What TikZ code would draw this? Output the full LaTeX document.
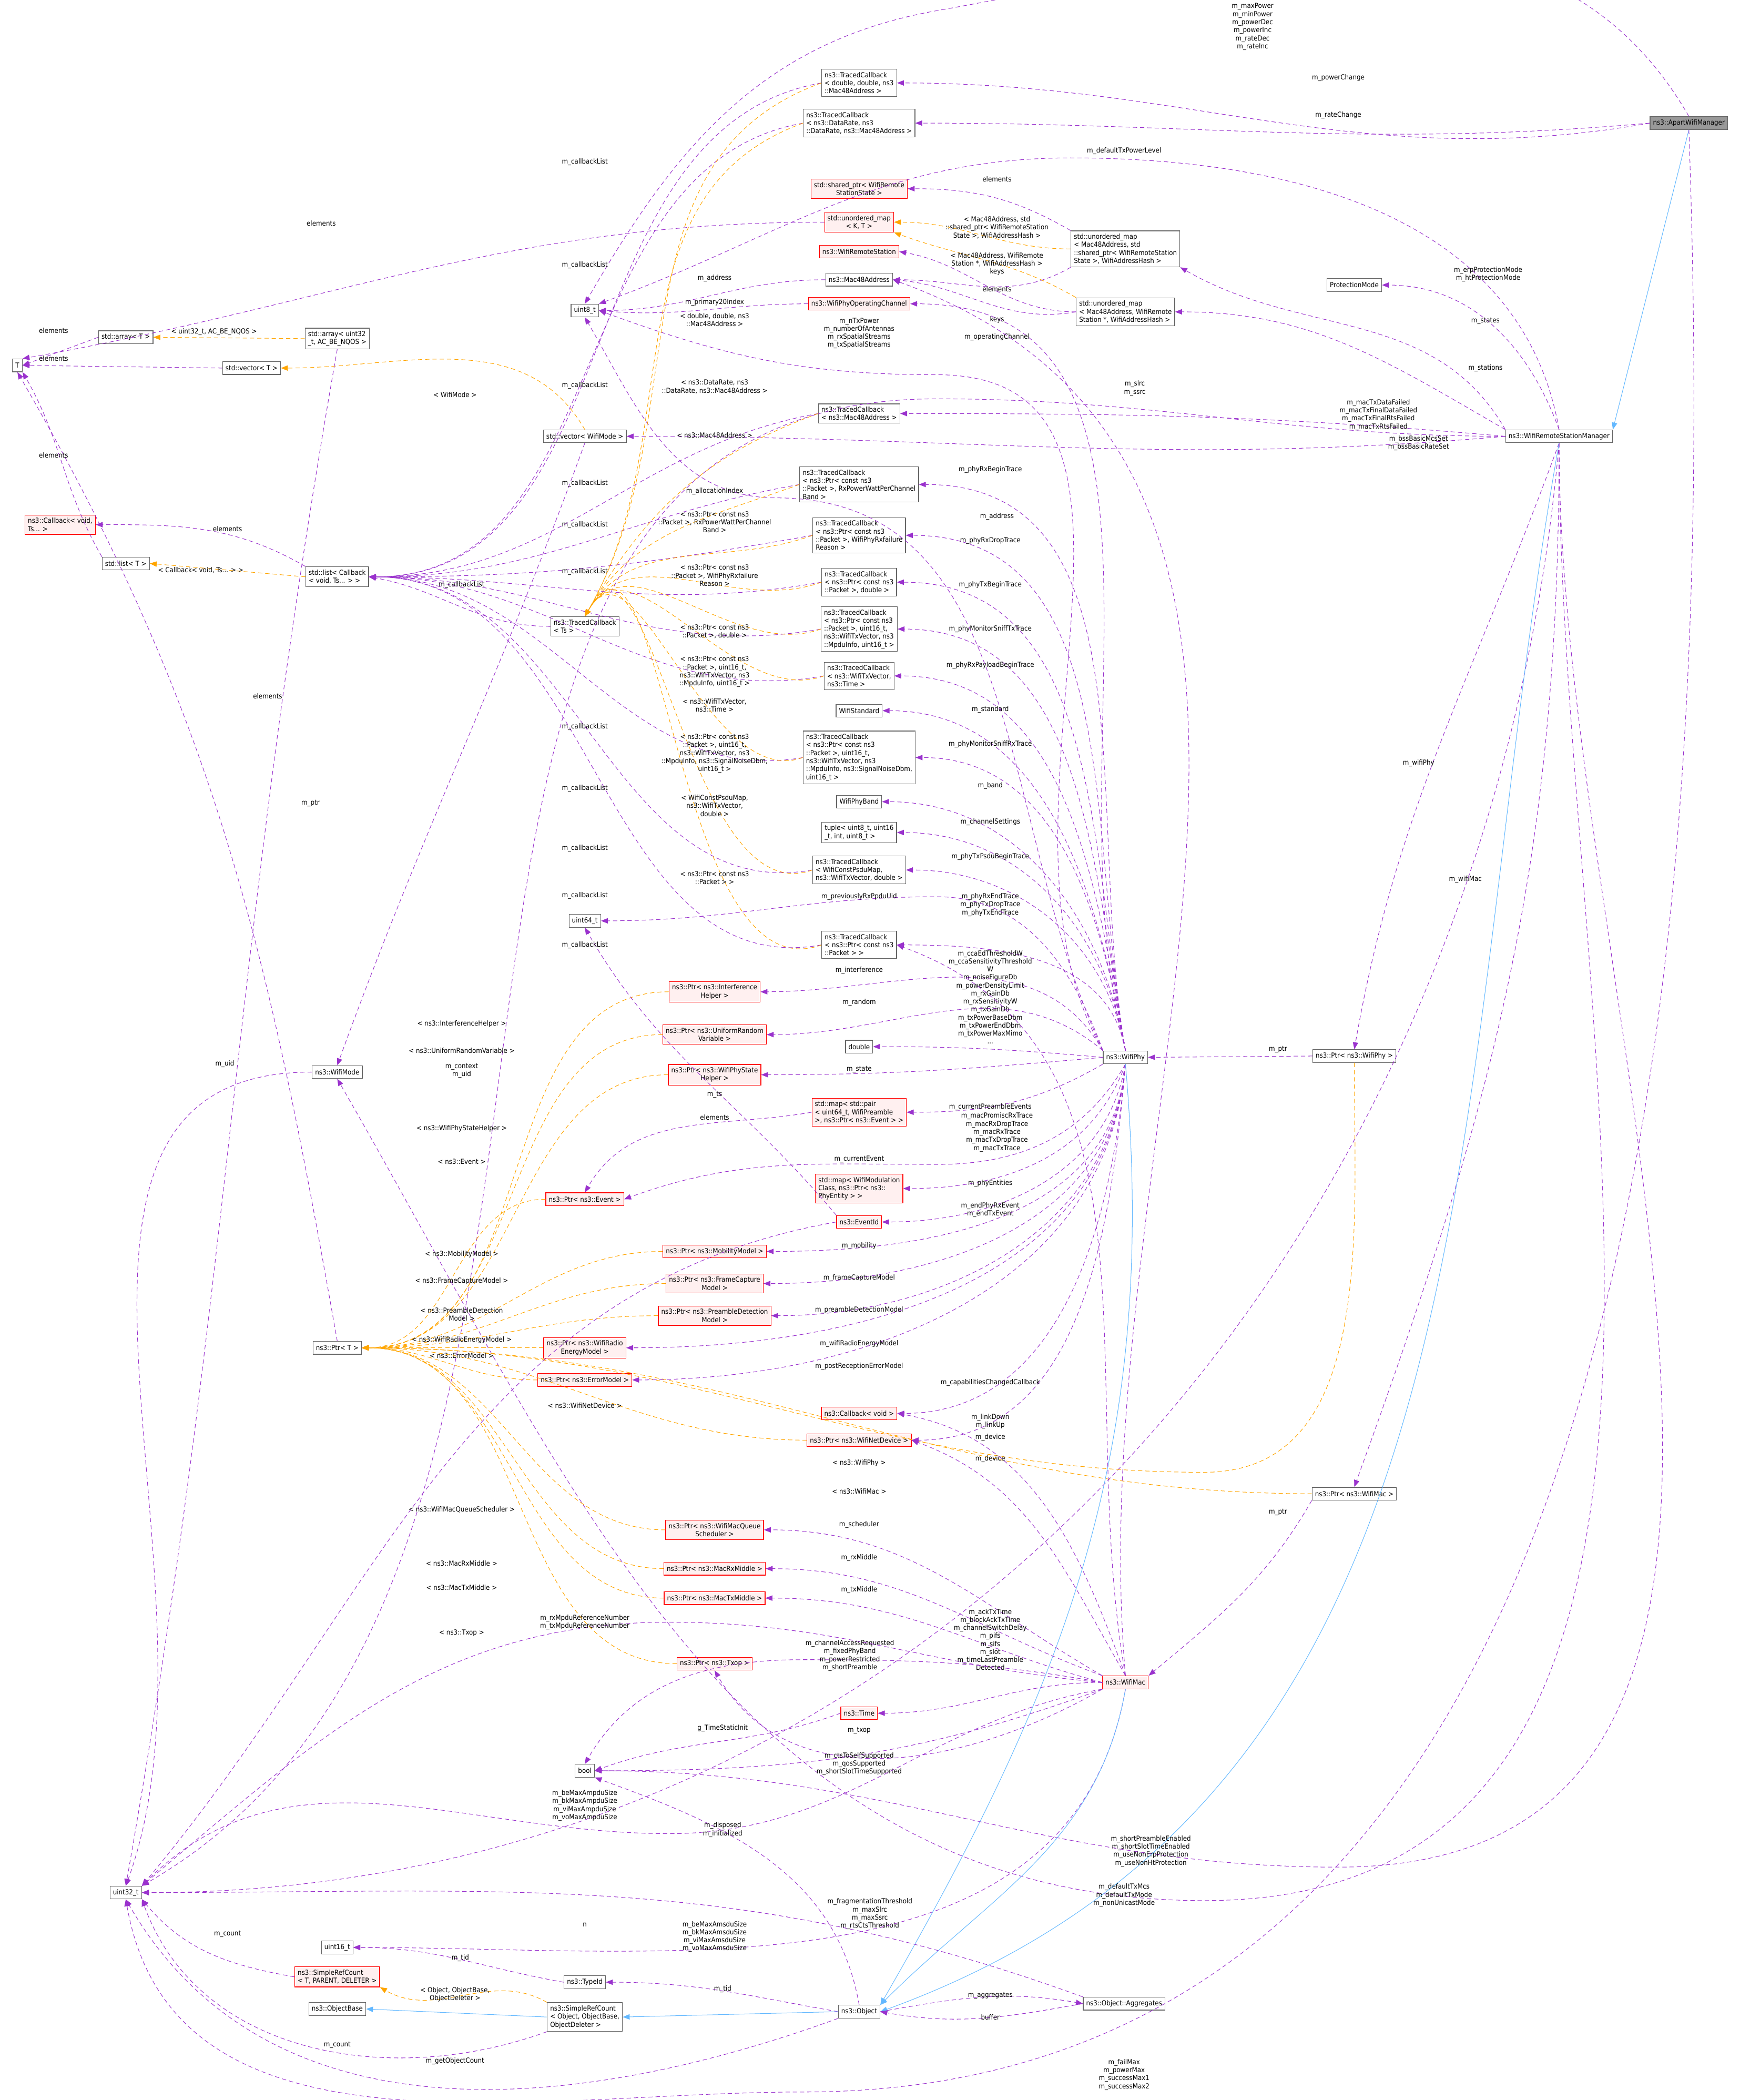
\documentclass[tikz,border=0pt]{standalone}
\usepackage{fontspec}
\setmainfont{DejaVu Sans Condensed}
\usetikzlibrary{arrows.meta}
\definecolor{pur}{HTML}{9A32CD}
\definecolor{org}{HTML}{FFA500}
\definecolor{blu}{HTML}{63B8FF}
\definecolor{redb}{HTML}{FF0000}
\definecolor{redf}{HTML}{FFF0F0}
\newcommand{\lbf}{\fontsize{1.3}{1.5}\selectfont}
\tikzset{
 bx/.style={draw=black!60, line width=0.12pt, fill=white, font=\lbf, align=left, inner sep=0.55pt, minimum height=2.4pt},
 rb/.style={bx, draw=redb, fill=redf},
 lb/.style={font=\lbf, align=center, inner sep=0pt},
 ln/.style={line width=0.1pt, dash pattern=on 0.8pt off 0.55pt},
 pe/.style={draw=pur, ln, -{Triangle[length=1.3pt,width=1pt,fill=pur]}},
 oe/.style={draw=org, ln, -{Triangle[length=1.3pt,width=1pt,fill=org]}},
 be/.style={draw=blu, line width=0.1pt, -{Triangle[length=1.3pt,width=1pt,fill=blu]}},
}
\begin{document}
\begin{tikzpicture}[x=0.25pt,y=0.25pt]
\useasboundingbox (0,0) rectangle (1300,-1569);
% nodes
\node[bx,fill=black!40] (ap) at (1262,-92) {ns3::ApartWifiManager};
\node[bx] (mgr) at (1165,-326) {ns3::WifiRemoteStationManager};
\node[bx] (prot) at (1012,-213) {ProtectionMode};
\node[bx] (pphy) at (1012,-789) {ns3::Ptr< ns3::WifiPhy >};
\node[bx] (pmac) at (1012,-1116) {ns3::Ptr< ns3::WifiMac >};
\node[bx] (phy) at (841,-790) {ns3::WifiPhy};
\node[rb] (mac) at (841,-1257) {ns3::WifiMac};
\node[bx] (obj) at (642,-1503) {ns3::Object};
\node[bx] (agg) at (840,-1497) {ns3::Object::Aggregates};
\node[bx] (tid) at (437,-1481) {ns3::TypeId};
\node[bx] (srco) at (437,-1507) {ns3::SimpleRefCount\\< Object, ObjectBase,\\ObjectDeleter >};
\node[bx] (ob) at (252,-1501) {ns3::ObjectBase};
\node[rb] (srct) at (252,-1477) {ns3::SimpleRefCount\\< T, PARENT, DELETER >};
\node[bx] (u16) at (252,-1455) {uint16\_t};
\node[bx] (u32) at (94,-1414) {uint32\_t};
\node[bx] (bool) at (437,-1323) {bool};
\node[rb] (time) at (642,-1280) {ns3::Time};
\node[rb] (ptxop) at (534,-1243) {ns3::Ptr< ns3::Txop >};
\node[rb] (ptxm) at (534,-1194) {ns3::Ptr< ns3::MacTxMiddle >};
\node[rb] (prxm) at (534,-1172) {ns3::Ptr< ns3::MacRxMiddle >};
\node[rb,align=center] (psch) at (534,-1143) {ns3::Ptr< ns3::WifiMacQueue\\Scheduler >};
\node[rb] (pnd) at (642,-1076) {ns3::Ptr< ns3::WifiNetDevice >};
\node[rb] (cbv) at (642,-1056) {ns3::Callback< void >};
\node[rb] (perr) at (437,-1031) {ns3::Ptr< ns3::ErrorModel >};
\node[rb,align=center] (prad) at (437,-1007) {ns3::Ptr< ns3::WifiRadio\\EnergyModel >};
\node[rb,align=center] (ppre) at (534,-983) {ns3::Ptr< ns3::PreambleDetection\\Model >};
\node[rb,align=center] (pfc) at (534,-959) {ns3::Ptr< ns3::FrameCapture\\Model >};
\node[rb] (pmob) at (534,-935) {ns3::Ptr< ns3::MobilityModel >};
\node[rb] (evid) at (642,-913) {ns3::EventId};
\node[rb] (pev) at (437,-896) {ns3::Ptr< ns3::Event >};
\node[rb] (mapmod) at (642,-888) {std::map< WifiModulation\\Class, ns3::Ptr< ns3::\\PhyEntity > >};
\node[rb] (mappair) at (642,-831) {std::map< std::pair\\< uint64\_t, WifiPreamble\\>, ns3::Ptr< ns3::Event > >};
\node[rb,align=center] (psh) at (534,-803) {ns3::Ptr< ns3::WifiPhyState\\Helper >};
\node[bx] (dbl) at (642,-782) {double};
\node[rb,align=center] (prnd) at (534,-773) {ns3::Ptr< ns3::UniformRandom\\Variable >};
\node[rb,align=center] (pint) at (534,-741) {ns3::Ptr< ns3::Interference\\Helper >};
\node[bx] (tcpkt) at (642,-706) {ns3::TracedCallback\\< ns3::Ptr< const ns3\\::Packet > >};
\node[bx] (u64) at (437,-688) {uint64\_t};
\node[bx] (tcpsdu) at (642,-650) {ns3::TracedCallback\\< WifiConstPsduMap,\\ns3::WifiTxVector, double >};
\node[bx] (tup) at (642,-622) {tuple< uint8\_t, uint16\\\_t, int, uint8\_t >};
\node[bx] (band) at (642,-599) {WifiPhyBand};
\node[bx] (tcsig) at (642,-566) {ns3::TracedCallback\\< ns3::Ptr< const ns3\\::Packet >, uint16\_t,\\ns3::WifiTxVector, ns3\\::MpduInfo, ns3::SignalNoiseDbm,\\uint16\_t >};
\node[bx] (stdd) at (642,-531) {WifiStandard};
\node[bx] (tctv) at (642,-505) {ns3::TracedCallback\\< ns3::WifiTxVector,\\ns3::Time >};
\node[bx] (tcmpdu) at (642,-470) {ns3::TracedCallback\\< ns3::Ptr< const ns3\\::Packet >, uint16\_t,\\ns3::WifiTxVector, ns3\\::MpduInfo, uint16\_t >};
\node[bx] (tcpd) at (642,-435) {ns3::TracedCallback\\< ns3::Ptr< const ns3\\::Packet >, double >};
\node[bx] (tcfail) at (642,-400) {ns3::TracedCallback\\< ns3::Ptr< const ns3\\::Packet >, WifiPhyRxfailure\\Reason >};
\node[bx] (tcrxp) at (642,-362) {ns3::TracedCallback\\< ns3::Ptr< const ns3\\::Packet >, RxPowerWattPerChannel\\Band >};
\node[bx] (tcmac) at (642,-309) {ns3::TracedCallback\\< ns3::Mac48Address >};
\node[bx] (vwm) at (437,-326) {std::vector< WifiMode >};
\node[bx] (wm) at (252,-801) {ns3::WifiMode};
\node[bx] (arru) at (252,-253) {std::array< uint32\\\_t, AC\_BE\_NQOS >};
\node[bx] (arrt) at (94,-252) {std::array< T >};
\node[bx] (vect) at (188,-275) {std::vector< T >};
\node[bx] (T) at (13,-273) {T};
\node[bx] (listt) at (94,-421) {std::list< T >};
\node[rb] (cbts) at (45,-392) {ns3::Callback< void,\\Ts... >};
\node[bx] (lcb) at (252,-431) {std::list< Callback\\< void, Ts... > >};
\node[bx] (tcts) at (437,-468) {ns3::TracedCallback\\< Ts >};
\node[bx] (ptrt) at (252,-1007) {ns3::Ptr< T >};
\node[bx] (u8) at (437,-232) {uint8\_t};
\node[rb] (opch) at (642,-227) {ns3::WifiPhyOperatingChannel};
\node[bx] (mac48) at (642,-209) {ns3::Mac48Address};
\node[rb] (wrs) at (642,-188) {ns3::WifiRemoteStation};
\node[rb,align=center] (umkt) at (642,-166) {std::unordered\_map\\< K, T >};
\node[rb,align=center] (shp) at (642,-141) {std::shared\_ptr< WifiRemote\\StationState >};
\node[bx] (tcdr) at (642,-92) {ns3::TracedCallback\\< ns3::DataRate, ns3\\::DataRate, ns3::Mac48Address >};
\node[bx] (tcdd) at (642,-62) {ns3::TracedCallback\\< double, double, ns3\\::Mac48Address >};
\node[bx] (um1) at (841,-186) {std::unordered\_map\\< Mac48Address, std\\::shared\_ptr< WifiRemoteStation\\State >, WifiAddressHash >};
\node[bx] (um2) at (841,-233) {std::unordered\_map\\< Mac48Address, WifiRemote\\Station *, WifiAddressHash >};

% ApartWifiManager
\draw[be] (ap.south) -- (mgr.north east);
\draw[pe] (ap.north) to[out=120,in=10] (700,-8) to[out=190,in=60] (u8.north);
\node[lb] at (936,-20) {m\_maxPower\\m\_minPower\\m\_powerDec\\m\_powerInc\\m\_rateDec\\m\_rateInc};
\draw[pe] (ap.west) to[out=190,in=0] (tcdd.east); \node[lb] at (1000,-58) {m\_powerChange};
\draw[pe] (ap.west) to[out=185,in=0] (tcdr.east); \node[lb] at (1000,-86) {m\_rateChange};
\draw[pe] (ap.south) to[out=-88,in=0] (600,-1563) to[out=180,in=-80] (u32.south);
\node[lb] at (840,-1550) {m\_failMax\\m\_powerMax\\m\_successMax1\\m\_successMax2};
% manager
\draw[pe] (mgr.north) to[out=100,in=0] (800,-118) to[out=180,in=20] (u8.north east); \node[lb] at (840,-113) {m\_defaultTxPowerLevel};
\draw[pe] (mgr.north) to[out=110,in=0] (prot.east); \node[lb] at (1112,-205) {m\_erpProtectionMode\\m\_htProtectionMode};
\draw[pe] (mgr.north west) to[out=120,in=-30] (um1.south east); \node[lb] at (1110,-240) {m\_states};
\draw[pe] (mgr.north west) to[out=150,in=0] (um2.east); \node[lb] at (1110,-275) {m\_stations};
\draw[pe] (mgr.west) to[out=180,in=0] (700,-298) to[out=180,in=30] (u32.north east); \node[lb] at (848,-290) {m\_slrc\\m\_ssrc};
\draw[pe] (mgr.west) to[out=175,in=0] (tcmac.east); \node[lb] at (1030,-310) {m\_macTxDataFailed\\m\_macTxFinalDataFailed\\m\_macTxFinalRtsFailed\\m\_macTxRtsFailed};
\draw[pe] (mgr.west) to[out=185,in=0] (vwm.east); \node[lb] at (1060,-331) {m\_bssBasicMcsSet\\m\_bssBasicRateSet};
\draw[pe] (mgr.south) to[out=-110,in=80] (pphy.north); \node[lb] at (1060,-570) {m\_wifiPhy};
\draw[pe] (mgr.south) to[out=-90,in=70] (pmac.north); \node[lb] at (1095,-657) {m\_wifiMac};
\draw[pe] (mgr.south) to[out=-90,in=0] (1000,-1395) to[out=180,in=0] (bool.east); \node[lb] at (860,-1383) {m\_shortPreambleEnabled\\m\_shortSlotTimeEnabled\\m\_useNonErpProtection\\m\_useNonHtProtection};
\draw[pe] (mgr.south) to[out=-90,in=0] (900,-1420) to[out=180,in=-60] (wm.south); \node[lb] at (840,-1416) {m\_defaultTxMcs\\m\_defaultTxMode\\m\_nonUnicastMode};
\draw[pe] (mgr.south) to[out=-95,in=0] (u32.east); \node[lb] at (650,-1430) {m\_fragmentationThreshold\\m\_maxSlrc\\m\_maxSsrc\\m\_rtsCtsThreshold};
\draw[be] (mgr.south) to[out=-100,in=20] (obj.east);
% Ptr phy/mac
\draw[pe] (pphy.west) -- (phy.east); \node[lb] at (955,-784) {m\_ptr};
\draw[pe] (pmac.south west) to[out=-120,in=40] (mac.north east); \node[lb] at (955,-1130) {m\_ptr};
\draw[oe] (pphy.south) to[out=-90,in=0] (900,-1100) to[out=180,in=0] (ptrt.east); \node[lb] at (642,-1093) {< ns3::WifiPhy >};
\draw[oe] (pmac.west) to[out=180,in=0] (ptrt.east); \node[lb] at (642,-1114) {< ns3::WifiMac >};
% WifiPhy members
\foreach \t/\o in {tcrxp/100,tcfail/100,tcpd/100,tcmpdu/100,tctv/100,stdd/100,tcsig/100,band/100,tup/100,tcpsdu/100,tcpkt/100}{
  \draw[pe] (phy.north) to[out=\o,in=0] (\t.east);}
\node[lb] at (740,-351) {m\_phyRxBeginTrace};
\node[lb] at (740,-404) {m\_phyRxDropTrace};
\node[lb] at (740,-437) {m\_phyTxBeginTrace};
\node[lb] at (740,-470) {m\_phyMonitorSniffTxTrace};
\node[lb] at (740,-497) {m\_phyRxPayloadBeginTrace};
\node[lb] at (740,-530) {m\_standard};
\node[lb] at (740,-556) {m\_phyMonitorSniffRxTrace};
\node[lb] at (740,-587) {m\_band};
\node[lb] at (740,-614) {m\_channelSettings};
\node[lb] at (740,-640) {m\_phyTxPsduBeginTrace};
\node[lb] at (740,-676) {m\_phyRxEndTrace\\m\_phyTxDropTrace\\m\_phyTxEndTrace};
\draw[pe] (phy.north) to[out=105,in=0] (opch.east); \node[lb] at (745,-252) {m\_operatingChannel};
\draw[pe] (phy.north west) to[out=110,in=0] (700,-670) to[out=180,in=0] (u64.east); \node[lb] at (642,-670) {m\_previouslyRxPpduUid};
\draw[pe] (phy.north west) to[out=120,in=0] (pint.east); \node[lb] at (642,-725) {m\_interference};
\draw[pe] (phy.north west) to[out=140,in=0] (prnd.east); \node[lb] at (642,-749) {m\_random};
\draw[pe] (phy.west) to[out=175,in=0] (dbl.east); \node[lb] at (740,-745) {m\_ccaEdThresholdW\\m\_ccaSensitivityThreshold\\W\\m\_noiseFigureDb\\m\_powerDensityLimit\\m\_rxGainDb\\m\_rxSensitivityW\\m\_txGainDb\\m\_txPowerBaseDbm\\m\_txPowerEndDbm\\m\_txPowerMaxMimo\\...};
\draw[pe] (phy.west) to[out=185,in=0] (psh.east); \node[lb] at (642,-799) {m\_state};
\draw[pe] (phy.south west) to[out=-150,in=0] (mappair.east); \node[lb] at (740,-827) {m\_currentPreambleEvents};
\draw[pe] (phy.south) to[out=-120,in=0] (700,-870) to[out=180,in=20] (pev.east); \node[lb] at (642,-866) {m\_currentEvent};
\draw[pe] (phy.south) to[out=-110,in=0] (mapmod.east); \node[lb] at (740,-884) {m\_phyEntities};
\draw[pe] (phy.south) to[out=-100,in=0] (evid.east); \node[lb] at (740,-904) {m\_endPhyRxEvent\\m\_endTxEvent};
\foreach \t in {pmob,pfc,ppre,prad,perr,cbv,pnd}{\draw[pe] (phy.south) to[out=-95,in=0] (\t.east);}
\node[lb] at (642,-931) {m\_mobility};
\node[lb] at (642,-955) {m\_frameCaptureModel};
\node[lb] at (642,-979) {m\_preambleDetectionModel};
\node[lb] at (642,-1004) {m\_wifiRadioEnergyModel};
\node[lb] at (642,-1021) {m\_postReceptionErrorModel};
\node[lb] at (740,-1033) {m\_capabilitiesChangedCallback};
\node[lb] at (740,-1074) {m\_device};
\draw[pe] (phy.north west) to[out=120,in=0] (700,-280) to[out=180,in=-20] (u8.east);
\node[lb] at (642,-249) {m\_nTxPower\\m\_numberOfAntennas\\m\_rxSpatialStreams\\m\_txSpatialStreams};
\draw[pe] (phy.north west) to[out=115,in=0] (580,-372) to[out=180,in=-60] (u8.south); \node[lb] at (534,-367) {m\_allocationIndex};
\draw[be] (phy.south) to[out=-85,in=60] (obj.north east);
% WifiMac members
\draw[pe] (mac.north) to[out=95,in=-20] (mac48.east); \node[lb] at (745,-386) {m\_address};
\draw[pe] (mac.north) to[out=100,in=-20] (tcpkt.east); \node[lb] at (745,-846) {m\_macPromiscRxTrace\\m\_macRxDropTrace\\m\_macRxTrace\\m\_macTxDropTrace\\m\_macTxTrace};
\draw[pe] (mac.north) to[out=110,in=-10] (cbv.east); \node[lb] at (740,-1062) {m\_linkDown\\m\_linkUp};
\draw[pe] (mac.north) to[out=120,in=-20] (pnd.east); \node[lb] at (740,-1090) {m\_device};
\draw[pe] (mac.north west) to[out=150,in=0] (psch.east); \node[lb] at (642,-1139) {m\_scheduler};
\draw[pe] (mac.north west) to[out=160,in=0] (prxm.east); \node[lb] at (642,-1164) {m\_rxMiddle};
\draw[pe] (mac.west) to[out=165,in=0] (ptxm.east); \node[lb] at (642,-1188) {m\_txMiddle};
\draw[pe] (mac.west) to[out=180,in=0] (time.east); \node[lb] at (740,-1225) {m\_ackTxTime\\m\_blockAckTxTime\\m\_channelSwitchDelay\\m\_pifs\\m\_sifs\\m\_slot\\m\_timeLastPreamble\\Detected};
\draw[pe] (mac.west) to[out=170,in=0] (600,-1240) to[out=180,in=60] (bool.north); \node[lb] at (635,-1237) {m\_channelAccessRequested\\m\_fixedPhyBand\\m\_powerRestricted\\m\_shortPreamble};
\draw[pe] (mac.south west) to[out=-150,in=-60] (ptxop.south); \node[lb] at (642,-1293) {m\_txop};
\draw[pe] (mac.south west) to[out=-160,in=0] (bool.east); \node[lb] at (642,-1318) {m\_ctsToSelfSupported\\m\_qosSupported\\m\_shortSlotTimeSupported};
\draw[pe] (mac.west) to[out=175,in=0] (500,-1212) to[out=180,in=40] (u32.north east); \node[lb] at (437,-1212) {m\_rxMpduReferenceNumber\\m\_txMpduReferenceNumber};
\draw[pe] (mac.south west) to[out=-170,in=0] (500,-1370) to[out=180,in=45] (u32.north east); \node[lb] at (437,-1349) {m\_beMaxAmpduSize\\m\_bkMaxAmpduSize\\m\_viMaxAmpduSize\\m\_voMaxAmpduSize};
\draw[pe] (mac.south) to[out=-100,in=0] (u16.east); \node[lb] at (534,-1447) {m\_beMaxAmsduSize\\m\_bkMaxAmsduSize\\m\_viMaxAmsduSize\\m\_voMaxAmsduSize};
\draw[be] (mac.south) to[out=-100,in=45] (obj.north east);
\draw[pe] (time.west) to[out=200,in=20] (bool.east); \node[lb] at (540,-1291) {g\_TimeStaticInit};
% Object
\draw[pe] (obj.west) to[out=170,in=0] (tid.east); \node[lb] at (540,-1486) {m\_tid};
\draw[pe] (tid.west) to[out=170,in=0] (u16.east); \node[lb] at (344,-1463) {m\_tid};
\draw[pe] (obj.east) to[out=10,in=170] (agg.west); \node[lb] at (740,-1491) {m\_aggregates};
\draw[pe] (agg.west) to[out=-170,in=-10] (obj.east); \node[lb] at (740,-1507) {buffer};
\draw[pe] (agg.north west) to[out=160,in=0] (u32.east); \node[lb] at (437,-1438) {n};
\draw[pe] (obj.south west) to[out=-160,in=-60] (u32.south); \node[lb] at (340,-1540) {m\_getObjectCount};
\draw[pe] (srco.south west) to[out=-160,in=-70] (u32.south east); \node[lb] at (252,-1528) {m\_count};
\draw[pe] (srct.west) to[out=170,in=-50] (u32.south east); \node[lb] at (170,-1445) {m\_count};
\draw[oe] (srco.north west) to[out=150,in=-30] (srct.south east); \node[lb] at (340,-1490) {< Object, ObjectBase,\\ObjectDeleter >};
\draw[be] (srco.west) -- (ob.east);
\draw[be] (obj.west) -- (srco.east);
\draw[pe] (obj.north) to[out=100,in=-20] (bool.south east); \node[lb] at (540,-1367) {m\_disposed\\m\_initialized};
% Ptr<T>
\draw[pe] (ptrt.north) to[out=100,in=-60] (T.south); \node[lb] at (232,-600) {m\_ptr};
\foreach \t/\l/\y in {pint/{< ns3::InterferenceHelper >}/765, prnd/{< ns3::UniformRandomVariable >}/785, psh/{< ns3::WifiPhyStateHelper >}/843, pev/{< ns3::Event >}/868, pmob/{< ns3::MobilityModel >}/937, pfc/{< ns3::FrameCaptureModel >}/957, ppre/{< ns3::PreambleDetection\\Model >}/982, prad/{< ns3::WifiRadioEnergyModel >}/1001, perr/{< ns3::ErrorModel >}/1013, psch/{< ns3::WifiMacQueueScheduler >}/1128, prxm/{< ns3::MacRxMiddle >}/1168, ptxm/{< ns3::MacTxMiddle >}/1186, ptxop/{< ns3::Txop >}/1220}{
  \draw[oe] (\t.west) to[out=180,in=0] (ptrt.east); \node[lb] at (345,-\y) {\l};}
\draw[oe] (pnd.west) to[out=180,in=0] (ptrt.east); \node[lb] at (437,-1050) {< ns3::WifiNetDevice >};
% containers
\draw[pe] (arrt.west) -- (T.east); \node[lb] at (40,-247) {elements};
\draw[pe] (vect.west) -- (T.east); \node[lb] at (40,-268) {elements};
\draw[pe] (listt.north west) to[out=120,in=-60] (T.south east); \node[lb] at (40,-340) {elements};
\draw[pe] (umkt.west) to[out=180,in=10] (T.north east); \node[lb] at (240,-167) {elements};
\draw[oe] (arru.west) -- (arrt.east); \node[lb] at (160,-248) {< uint32\_t, AC\_BE\_NQOS >};
\draw[oe] (vwm.north) to[out=120,in=0] (vect.east); \node[lb] at (340,-295) {< WifiMode >};
\draw[oe] (lcb.west) -- (listt.east); \node[lb] at (150,-426) {< Callback< void, Ts... > >};
\draw[pe] (lcb.north west) to[out=150,in=0] (cbts.east); \node[lb] at (170,-395) {elements};
\draw[pe] (vwm.south) to[out=-110,in=70] (wm.north); \node[lb] at (200,-520) {elements};
\draw[pe] (arru.south) to[out=-100,in=80] (u32.north);
\draw[pe] (wm.west) to[out=180,in=70] (u32.north); \node[lb] at (168,-795) {m\_uid};
\draw[pe] (evid.west) to[out=190,in=50] (u32.north east); \node[lb] at (345,-800) {m\_context\\m\_uid};
\draw[pe] (evid.north west) to[out=130,in=-60] (u64.south); \node[lb] at (534,-818) {m\_ts};
\draw[pe] (mappair.west) to[out=190,in=60] (pev.north); \node[lb] at (534,-835) {elements};
\draw[pe] (mac48.west) to[out=180,in=0] (u8.east); \node[lb] at (534,-208) {m\_address};
\draw[pe] (opch.west) to[out=180,in=-5] (u8.east); \node[lb] at (534,-226) {m\_primary20Index};
\draw[pe] (um1.north west) to[out=150,in=0] (shp.east); \node[lb] at (745,-134) {elements};
\draw[pe] (um1.south west) to[out=-150,in=0] (mac48.east); \node[lb] at (745,-203) {keys};
\draw[pe] (um2.west) to[out=180,in=-10] (wrs.east); \node[lb] at (745,-216) {elements};
\draw[pe] (um2.west) to[out=190,in=-5] (mac48.east); \node[lb] at (745,-239) {keys};
\draw[oe] (um1.west) to[out=180,in=0] (umkt.east); \node[lb] at (745,-170) {< Mac48Address, std\\::shared\_ptr< WifiRemoteStation\\State >, WifiAddressHash >};
\draw[oe] (um2.north west) to[out=150,in=-20] (umkt.south east); \node[lb] at (745,-194) {< Mac48Address, WifiRemote\\Station *, WifiAddressHash >};
% traced callbacks
\foreach \t in {tcdd,tcdr,tcmac,tcrxp,tcfail,tcpd,tcmpdu,tctv,tcsig,tcpsdu,tcpkt}{
  \draw[pe] (\t.west) to[out=190,in=0] (lcb.east);}
\draw[pe] (tcts.west) to[out=180,in=-10] (lcb.east); \node[lb] at (345,-437) {m\_callbackList};
\foreach \y in {121,198,288,361,392,427,543,589,634,669,706}{\node[lb] at (437,-\y) {m\_callbackList};}
\foreach \t in {tcdd,tcdr,tcmac,tcrxp,tcfail,tcpd,tcmpdu,tctv,tcsig,tcpsdu,tcpkt}{
  \draw[oe] (\t.west) to[out=200,in=60] (tcts.north);}
\node[lb] at (534,-239) {< double, double, ns3\\::Mac48Address >};
\node[lb] at (534,-289) {< ns3::DataRate, ns3\\::DataRate, ns3::Mac48Address >};
\node[lb] at (534,-325) {< ns3::Mac48Address >};
\node[lb] at (534,-390) {< ns3::Ptr< const ns3\\::Packet >, RxPowerWattPerChannel\\Band >};
\node[lb] at (534,-430) {< ns3::Ptr< const ns3\\::Packet >, WifiPhyRxfailure\\Reason >};
\node[lb] at (534,-472) {< ns3::Ptr< const ns3\\::Packet >, double >};
\node[lb] at (534,-502) {< ns3::Ptr< const ns3\\::Packet >, uint16\_t,\\ns3::WifiTxVector, ns3\\::MpduInfo, uint16\_t >};
\node[lb] at (534,-527) {< ns3::WifiTxVector,\\ns3::Time >};
\node[lb] at (534,-563) {< ns3::Ptr< const ns3\\::Packet >, uint16\_t,\\ns3::WifiTxVector, ns3\\::MpduInfo, ns3::SignalNoiseDbm,\\uint16\_t >};
\node[lb] at (534,-602) {< WifiConstPsduMap,\\ns3::WifiTxVector,\\double >};
\node[lb] at (534,-656) {< ns3::Ptr< const ns3\\::Packet > >};
\end{tikzpicture}
\end{document}
